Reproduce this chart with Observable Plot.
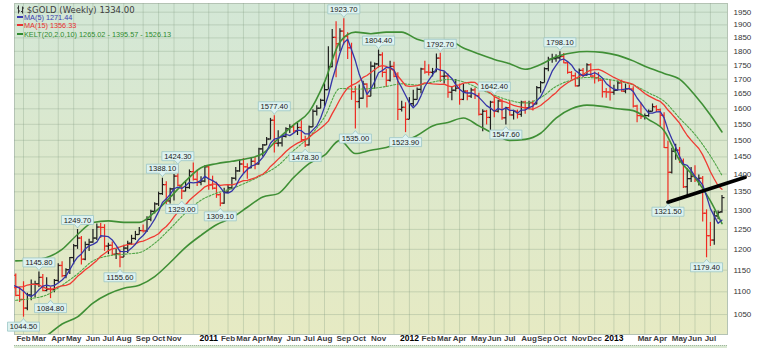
<!DOCTYPE html>
<html><head><meta charset="utf-8">
<script src="https://cdn.jsdelivr.net/npm/d3@7"></script>
<script src="https://cdn.jsdelivr.net/npm/@observablehq/plot@0.6"></script>
<style>
html,body{margin:0;padding:0;background:#fff}
body{width:765px;height:348px;overflow:hidden;position:relative;font-family:"Liberation Sans",Arial,sans-serif}
#chart{position:absolute;left:0;top:0}
.lg{position:absolute;left:17px;white-space:nowrap;line-height:1}
.sw{display:inline-block;width:6px;height:2px;vertical-align:middle;margin-right:1px;position:relative;top:-1px}
#vol{position:absolute;left:14px;top:345px;width:713px;height:10px;background:#d9e8d2;border-top:1px dotted #9fb59f}
</style></head><body>
<svg width="0" height="0" style="position:absolute"><defs>
<linearGradient id="bgGrad" x1="0" y1="0" x2="0" y2="1">
<stop offset="0" stop-color="#d3e7d6"/><stop offset="1" stop-color="#e6eac3"/>
</linearGradient></defs></svg>
<div id="chart"></div>
<div class="lg" style="top:4.5px;font-family:'DejaVu Sans';font-size:8.5px;color:#3c3c3c"><svg width="7" height="9" style="vertical-align:-1px"><path d="M1.5,0.5V8.5M0,3H1.5M1.5,6H3M5.5,1.5V8.5M4,6.5H5.5M5.5,3H7" stroke="#333" fill="none"/></svg> $GOLD (Weekly) 1334.00</div>
<div class="lg" style="top:14.2px;font-size:7.3px;color:#3b3bb0"><span class="sw" style="background:#3b3bb0"></span>MA(5) 1271.44</div>
<div class="lg" style="top:22.2px;font-size:7.3px;color:#e83030"><span class="sw" style="background:#e83030"></span>MA(15) 1356.33</div>
<div class="lg" style="top:30.8px;font-size:7.3px;color:#2f8a2f"><span class="sw" style="background:#2f8a2f"></span>KELT(20,2.0,10) 1265.02 - 1395.57 - 1526.13</div>
<div id="vol"></div>
<script>
// ---------- DATA ----------
const firstBar = "2010-01-22", lastBar = "2013-07-26";
// weekly closes before the visible range (used only by moving averages)
const warmupDates = ["2009-10-16","2009-10-23","2009-10-30","2009-11-06","2009-11-13","2009-11-20","2009-11-27","2009-12-04","2009-12-11","2009-12-18","2009-12-25","2010-01-01","2010-01-08","2010-01-15"];
const warmupClose = [1051,1056,1040,1096,1119,1146,1176,1162,1121,1110,1104,1097,1138,1131];
// weekly [open, high, low, close]
const ohlc2010 = [
[1138,1141,1089,1092],[1092,1110,1076,1083],[1083,1123,1044.5,1064],[1064,1097,1058,1093],[1093,1127,1080,1117],[1117,1124,1087,1118],
[1118,1145.8,1110,1133],[1133,1140,1100,1103],[1103,1132,1100,1106],[1106,1110,1084.8,1105],
[1105,1128,1098,1126],[1126,1165,1120,1161],[1161,1170,1132,1137],[1137,1153,1130,1151],[1151,1180,1140,1180],
[1180,1212,1163,1209],[1209,1249.7,1200,1228],[1228,1232,1162,1176],[1176,1218,1172,1212],
[1212,1225,1195,1218],[1218,1250,1215,1228],[1228,1264,1222,1256],[1256,1265,1227,1255],
[1255,1262,1195,1208],[1208,1215,1187,1210],[1210,1218,1185,1188],[1188,1200,1175,1189],[1189,1198,1155.6,1181],
[1181,1210,1180,1203],[1203,1220,1190,1215],[1215,1235,1210,1227],[1227,1245,1222,1237],
[1237,1255,1236,1247],[1247,1261,1241,1246],[1246,1283,1242,1276],[1276,1300,1270,1297],
[1297,1320,1290,1317],[1317,1349,1310,1345],[1345,1388.1,1340,1370],[1370,1378,1315,1325],[1325,1360,1317,1358],
[1358,1399,1325,1394],[1394,1424.3,1365,1368],[1368,1370,1329,1352],[1352,1380,1350,1362],
[1362,1412,1357,1407],[1407,1432,1380,1385],[1385,1411,1365,1376],[1376,1392,1367,1380],[1380,1424,1375,1421]];
const ohlc2011 = [
[1421,1422,1354,1369],[1369,1394,1355,1360],[1360,1377,1332,1342],[1342,1346,1309.1,1319],
[1319,1360,1316,1349],[1349,1370,1345,1361],[1361,1390,1356,1388],[1388,1419,1380,1409],
[1409,1440,1405,1429],[1429,1445,1400,1421],[1421,1430,1385,1418],[1418,1447,1415,1437],
[1437,1448,1412,1429],[1429,1476,1426,1474],[1474,1487,1450,1486],[1486,1509,1484,1504],[1504,1569,1501,1563],
[1563,1577.4,1462,1491],[1491,1530,1480,1492],[1492,1514,1480,1512],[1512,1539,1507,1536],
[1536,1549,1521,1542],[1542,1550,1521,1529],[1529,1553,1515,1540],[1540,1561,1496,1502],
[1502,1513,1478.3,1486],[1486,1545,1483,1542],[1542,1597,1540,1592],[1592,1610,1577,1602],[1602,1632,1600,1628],
[1628,1684,1606,1664],[1664,1817,1664,1744],[1744,1882,1740,1852],[1852,1912,1705,1828],
[1828,1885,1798,1876],[1876,1923.7,1823,1856],[1856,1870,1770,1813],[1813,1830,1628,1657],[1657,1675,1535,1624],
[1624,1680,1600,1635],[1635,1693,1632,1683],[1683,1684,1603,1642],[1642,1761,1640,1746],
[1746,1757,1665,1754],[1754,1804.4,1740,1787],[1787,1795,1705,1724],[1724,1734,1671,1696],
[1696,1764,1690,1745],[1745,1760,1705,1710],[1710,1723,1562,1598],[1598,1625,1590,1605],[1605,1620,1523.9,1566]];
const ohlc2012 = [
[1566,1637,1565,1617],[1617,1662,1608,1631],[1631,1670,1629,1665],[1665,1739,1650,1736],
[1736,1764,1717,1725],[1725,1751,1711,1724],[1724,1738,1708,1726],[1726,1790,1725,1775],
[1775,1792.7,1689,1710],[1710,1726,1683,1711],[1711,1718,1635,1655],[1655,1675,1627,1662],[1662,1699,1656,1669],
[1669,1683,1612,1631],[1631,1683,1627,1659],[1659,1661,1627,1642],[1642,1669,1634,1663],
[1663,1670,1631,1644],[1644,1652,1577,1582],[1582,1597,1527,1592],[1592,1595,1548,1572],
[1572,1625,1531,1622],[1622,1642.4,1571,1592],[1592,1628,1586,1626],[1626,1630,1563,1571],[1571,1605,1547.6,1604],
[1604,1625,1577,1580],[1580,1595,1564,1592],[1592,1596,1567,1582],[1582,1625,1573,1622],
[1622,1625,1582,1604],[1604,1625,1597,1620],[1620,1627,1593,1616],[1616,1675,1613,1671],[1671,1692,1652,1688],
[1688,1740,1687,1737],[1737,1778,1726,1771],[1771,1789,1756,1773],[1773,1787,1760,1776],
[1776,1798.1,1767,1781],[1781,1792,1755,1758],[1758,1759,1717,1724],[1724,1727,1698,1712],
[1712,1722,1673,1677],[1677,1736,1674,1731],[1731,1738,1705,1715],[1715,1755,1710,1751],[1751,1755,1705,1711],
[1711,1725,1683,1705],[1705,1723,1690,1697],[1697,1698,1636,1657],[1657,1668,1635,1656]];
const ohlc2013 = [
[1656,1696,1626,1655],[1655,1679,1645,1662],[1662,1694,1660,1687],[1687,1696,1655,1659],
[1659,1683,1650,1667],[1667,1680,1661,1666],[1666,1674,1603,1609],[1609,1612,1555,1578],
[1578,1619,1565,1575],[1575,1583,1564,1578],[1578,1596,1573,1592],[1592,1616,1590,1607],[1607,1610,1588,1597],
[1597,1599,1540,1579],[1579,1587,1475,1478],[1478,1497,1321.5,1405],[1405,1476,1400,1467],
[1467,1488,1440,1470],[1470,1478,1431,1438],[1438,1444,1359,1364],[1364,1415,1338,1387],[1387,1419,1376,1393],
[1393,1424,1376,1384],[1384,1397,1366,1388],[1388,1393,1269,1292],[1292,1301,1179.4,1234],
[1234,1268,1207,1223],[1223,1297,1210,1285],[1285,1298,1275,1294],[1296,1340,1292,1334]];
// Keltner channel read every 4 weeks from 2010-01-22, last value at 2013-07-26
const keltUpper  = [1172,1174,1180,1200,1237,1268,1272,1268,1268,1295,1335,1380,1418,1430,1437,1445,1460,1505,1548,1590,1690,1835,1872,1866,1872,1872,1845,1834,1841,1812,1790,1770,1755,1735,1752,1780,1794,1799,1796,1785,1765,1740,1720,1700,1645,1580,1526];
const keltMiddle = [1081,1085,1093,1115,1141,1172,1184,1188,1192,1215,1252,1293,1327,1346,1359,1377,1398,1425,1469,1510,1573,1668,1666,1668,1675,1684,1680,1690,1699,1691,1668,1645,1628,1619,1637,1675,1697,1706,1702,1693,1680,1653,1625,1570,1518,1453,1396];
const keltLower  = [990,995,1006,1030,1045,1075,1095,1108,1115,1135,1168,1205,1235,1262,1280,1308,1336,1345,1390,1430,1455,1500,1460,1470,1478,1495,1515,1545,1556,1570,1545,1520,1500,1503,1522,1570,1600,1612,1608,1600,1594,1565,1530,1440,1390,1325,1265];
// price labels
const calloutDates  = ["2010-02-05","2010-03-05","2010-03-26","2010-05-14","2010-07-30","2010-10-15","2010-11-12","2010-11-19","2011-01-28","2011-05-06","2011-07-01","2011-09-09","2011-09-30","2011-11-11","2011-12-30","2012-03-02","2012-06-08","2012-06-29","2012-10-05","2013-04-19","2013-06-28"];
const calloutPrices = [1044.5,1145.8,1084.8,1249.7,1155.6,1388.1,1424.3,1329.0,1309.1,1577.4,1478.3,1923.7,1535.0,1804.4,1523.9,1792.7,1642.4,1547.6,1798.1,1321.5,1179.4];
const calloutSide   = ["below","above","below","above","below","above","above","below","below","above","below","above","below","above","below","above","above","below","above","below","below"];
// hand-drawn trend line
const trendDates = ["2013-04-19","2013-09-06"];
const trendPrices = [1321.5,1391];
// axes
const priceTicks = [1050,1100,1150,1200,1250,1300,1350,1400,1450,1500,1550,1600,1650,1700,1750,1800,1850,1900,1950];
const monthTickDates = ["2010-02-05","2010-03-05","2010-04-09","2010-05-07","2010-06-11","2010-07-09","2010-08-06","2010-09-10","2010-10-08","2010-11-05","2010-12-10",
"2011-01-07","2011-02-11","2011-03-11","2011-04-08","2011-05-06","2011-06-10","2011-07-08","2011-08-05","2011-09-09","2011-10-07","2011-11-11","2011-12-09",
"2012-01-06","2012-02-10","2012-03-09","2012-04-06","2012-05-11","2012-06-08","2012-07-06","2012-08-10","2012-09-07","2012-10-05","2012-11-09","2012-12-07",
"2013-01-11","2013-02-08","2013-03-08","2013-04-05","2013-05-10","2013-06-07","2013-07-05"];
const monthTickLabels = ["Feb","Mar","Apr","May","Jun","Jul","Aug","Sep","Oct","Nov","",
"2011","Feb","Mar","Apr","May","Jun","Jul","Aug","Sep","Oct","Nov","",
"2012","Feb","Mar","Apr","May","Jun","Jul","Aug","Sep","Oct","Nov","Dec",
"2013","","Mar","Apr","May","Jun","Jul"];

// ---------- BUILD ----------
const parse = d3.utcParse("%Y-%m-%d");
const ohlc = [...ohlc2010, ...ohlc2011, ...ohlc2012, ...ohlc2013];
const barDates = d3.utcFriday.range(parse(firstBar), d3.utcDay.offset(parse(lastBar), 1));
if (barDates.length !== ohlc.length) console.error("length mismatch", barDates.length, ohlc.length);
let prev = warmupClose[warmupClose.length - 1];
const bars = ohlc.map(([o, h, l, c], i) => {
  const b = {date: barDates[i], open: o, high: h, low: l, close: c, up: c > prev};
  prev = c; return b;
});
const closes = [...warmupDates.map((d, i) => ({date: parse(d), close: warmupClose[i]})), ...bars];
const keltDates = [...d3.utcFriday.range(parse(firstBar), parse(lastBar), 4), parse(lastBar)];
const kelt = keltDates.map((d, i) => ({date: d, upper: keltUpper[i], middle: keltMiddle[i], lower: keltLower[i]}));
const callouts = calloutDates.map((d, i) => ({date: parse(d), price: calloutPrices[i], side: calloutSide[i], label: calloutPrices[i].toFixed(2)}));
const below = callouts.filter(d => d.side === "below"), above = callouts.filter(d => d.side === "above");
const trend = trendDates.map((d, i) => ({date: parse(d), price: trendPrices[i]}));
const xt = monthTickDates.map((d, i) => ({date: parse(d), label: monthTickLabels[i]}));
const upBars = bars.filter(b => b.up), downBars = bars.filter(b => !b.up);

const openTick = {draw(c) { c.moveTo(-2.5, 0); c.lineTo(0, 0); }};
const closeTick = {draw(c) { c.moveTo(0, 0); c.lineTo(2.5, 0); }};
const boxBelow = {draw(c) { c.moveTo(0, 1.5); c.lineTo(3, 5); c.lineTo(16, 5); c.lineTo(16, 14); c.lineTo(-16, 14); c.lineTo(-16, 5); c.lineTo(-3, 5); c.closePath(); }};
const boxAbove = {draw(c) { c.moveTo(0, -1.5); c.lineTo(3, -5); c.lineTo(16, -5); c.lineTo(16, -14); c.lineTo(-16, -14); c.lineTo(-16, -5); c.lineTo(-3, -5); c.closePath(); }};

const UP = "#1e1e1e", DOWN = "#ee2b22", GREEN = "#3f8f35";
function barMarks(data, color) {
  return [
    Plot.ruleX(data, {x: "date", y1: "low", y2: "high", stroke: color, strokeWidth: 1.2, clip: true}),
    Plot.dot(data, {x: "date", y: "open", symbol: openTick, stroke: color, fill: "none", strokeWidth: 1.2, clip: true}),
    Plot.dot(data, {x: "date", y: "close", symbol: closeTick, stroke: color, fill: "none", strokeWidth: 1.2, clip: true})
  ];
}

const chart = Plot.plot({
  width: 765, height: 345,
  marginLeft: 14, marginRight: 38, marginTop: 3, marginBottom: 11,
  x: {type: "utc", domain: [new Date(Date.UTC(2010, 0, 19, 16)), new Date(Date.UTC(2013, 7, 5))], axis: null},
  y: {type: "log", domain: [1008, 1985], axis: null},
  style: {background: "transparent", overflow: "visible", fontFamily: "'Liberation Sans', Arial, sans-serif"},
  marks: [
    Plot.frame({fill: "url(#bgGrad)", stroke: "#b4c3b4"}),
    Plot.ruleY(priceTicks, {y: d => d, stroke: "#7f987f", strokeOpacity: 0.3}),
    Plot.ruleX(xt, {x: "date", stroke: "#7f987f", strokeOpacity: 0.3}),
    ...barMarks(upBars, UP),
    ...barMarks(downBars, DOWN),
    Plot.line(kelt, {x: "date", y: "upper", stroke: GREEN, strokeWidth: 1.6, curve: "monotone-x", clip: true}),
    Plot.line(kelt, {x: "date", y: "lower", stroke: GREEN, strokeWidth: 1.6, curve: "monotone-x", clip: true}),
    Plot.line(kelt, {x: "date", y: "middle", stroke: "#52a548", strokeWidth: 1.1, strokeDasharray: "2,1.6", curve: "monotone-x", clip: true}),
    Plot.lineY(closes, Plot.windowY({k: 15, anchor: "end", reduce: "mean"}, {x: "date", y: "close", stroke: "#f03a32", strokeWidth: 1.3, clip: true})),
    Plot.lineY(closes, Plot.windowY({k: 5, anchor: "end", reduce: "mean"}, {x: "date", y: "close", stroke: "#3535a8", strokeWidth: 1.3, clip: true})),
    Plot.line(trend, {x: "date", y: "price", stroke: "#000", strokeWidth: 3.6, strokeLinecap: "round"}),
    Plot.dot(below, {x: "date", y: "price", symbol: boxBelow, fill: "#ddf2f0", stroke: "#9cc7c6", strokeWidth: 0.8}),
    Plot.dot(above, {x: "date", y: "price", symbol: boxAbove, fill: "#ddf2f0", stroke: "#9cc7c6", strokeWidth: 0.8}),
    Plot.text(below, {x: "date", y: "price", text: "label", dy: 9.8, fontSize: 7.6, fill: "#1a1a1a"}),
    Plot.text(above, {x: "date", y: "price", text: "label", dy: -9.2, fontSize: 7.6, fill: "#1a1a1a"}),
    Plot.text(priceTicks, {y: d => d, text: d => String(d), frameAnchor: "right", dx: 6, textAnchor: "start", fontSize: 8, fill: "#333"}),
    Plot.text(xt.filter(d => d.label.length === 3), {x: "date", text: "label", frameAnchor: "bottom", dy: 6, fontSize: 8, fontWeight: 600, fill: "#3a3a3a"}),
    Plot.text(xt.filter(d => d.label.length === 4), {x: "date", text: "label", frameAnchor: "bottom", dy: 6, fontSize: 8.5, fontWeight: 700, fill: "#000"})
  ]
});
document.getElementById("chart").appendChild(chart);
</script>
</body></html>
